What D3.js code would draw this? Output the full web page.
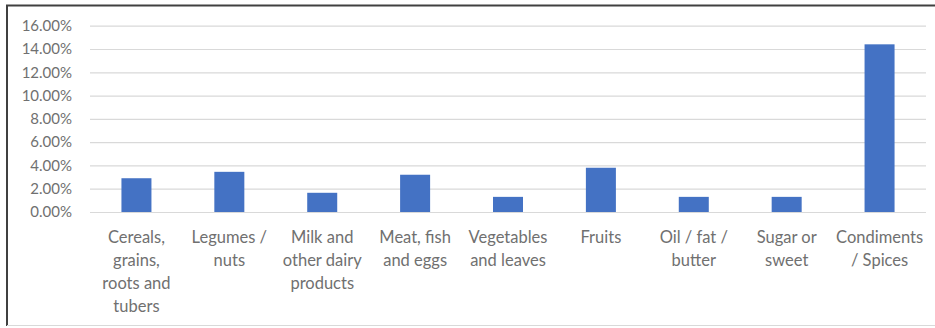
<!DOCTYPE html>
<html>
<head>
<meta charset="utf-8">
<script src="https://cdn.jsdelivr.net/npm/d3@7/dist/d3.min.js"></script>
<style>
  html, body { margin: 0; padding: 0; background: #fff; }
  svg { display: block; }
  text { font-family: Lato, "Open Sans", sans-serif; fill: #707070; }
</style>
</head>
<body>
<svg id="chart" width="935" height="328"></svg>
<script>
// Food groups (line breaks mark where each axis label wraps)
const categories = [
  "Cereals,\ngrains,\nroots and\ntubers",
  "Legumes /\nnuts",
  "Milk and\nother dairy\nproducts",
  "Meat, fish\nand eggs",
  "Vegetables\nand leaves",
  "Fruits",
  "Oil / fat /\nbutter",
  "Sugar or\nsweet",
  "Condiments\n/ Spices"
];
// Share of each group, in percent
const values = [2.9, 3.45, 1.65, 3.2, 1.3, 3.8, 1.3, 1.3, 14.4];
const yTicks = [0, 2, 4, 6, 8, 10, 12, 14, 16];

const svg = d3.select("#chart");
const W = 935, H = 328;

// Chart frame
svg.append("rect").attr("x", 0).attr("y", 0).attr("width", W).attr("height", H).attr("fill", "#fff");
svg.append("line").attr("x1", 6).attr("x2", W).attr("y1", 5.5).attr("y2", 5.5)
  .attr("stroke", "#404040").attr("stroke-width", 2);
svg.append("line").attr("x1", 7).attr("x2", 7).attr("y1", 5).attr("y2", 326)
  .attr("stroke", "#404040").attr("stroke-width", 2);
svg.append("line").attr("x1", 7).attr("x2", W).attr("y1", 325.5).attr("y2", 325.5)
  .attr("stroke", "#d9d9d9").attr("stroke-width", 1);

const plot = { left: 90, right: 926, top: 25.7, bottom: 212 };

const x = d3.scaleBand().domain(d3.range(categories.length))
  .range([plot.left, plot.right]).paddingInner(0.677).paddingOuter(0.3385);
const y = d3.scaleLinear().domain([0, 16]).range([plot.bottom, plot.top]);

// Horizontal gridlines
const yAxis = d3.axisLeft(y).tickValues(yTicks)
  .tickSize(-(plot.right - plot.left))
  .tickFormat(d => d3.format(".2f")(d) + "%")
  .tickPadding(18);
const gy = svg.append("g").attr("transform", `translate(${plot.left},0)`).call(yAxis);
gy.select(".domain").remove();
gy.selectAll(".tick line").attr("stroke", "#d9d9d9").attr("stroke-width", 1.2);
gy.selectAll(".tick text").attr("font-size", 15).attr("fill", "#707070")
  .style("font-family", "Lato, sans-serif");

// Bars
svg.append("g").selectAll("rect").data(values).join("rect")
  .attr("x", (d, i) => x(i))
  .attr("width", x.bandwidth())
  .attr("y", d => y(d))
  .attr("height", d => y(0) - y(d))
  .attr("fill", "#4472c4");

// Category labels
const xAxis = d3.axisBottom(x).tickSize(0).tickFormat(() => "");
const gx = svg.append("g").attr("transform", `translate(0,${plot.bottom})`).call(xAxis);
gx.select(".domain").remove();
gx.selectAll(".tick").each(function (i) {
  const lines = categories[i].split("\n");
  const t = d3.select(this).append("text")
    .attr("text-anchor", "middle")
    .attr("font-size", 16.5)
    .attr("fill", "#707070");
  lines.forEach((ln, k) => {
    t.append("tspan").attr("x", 0).attr("y", 31 + k * 23).text(ln);
  });
});
</script>
</body>
</html>
